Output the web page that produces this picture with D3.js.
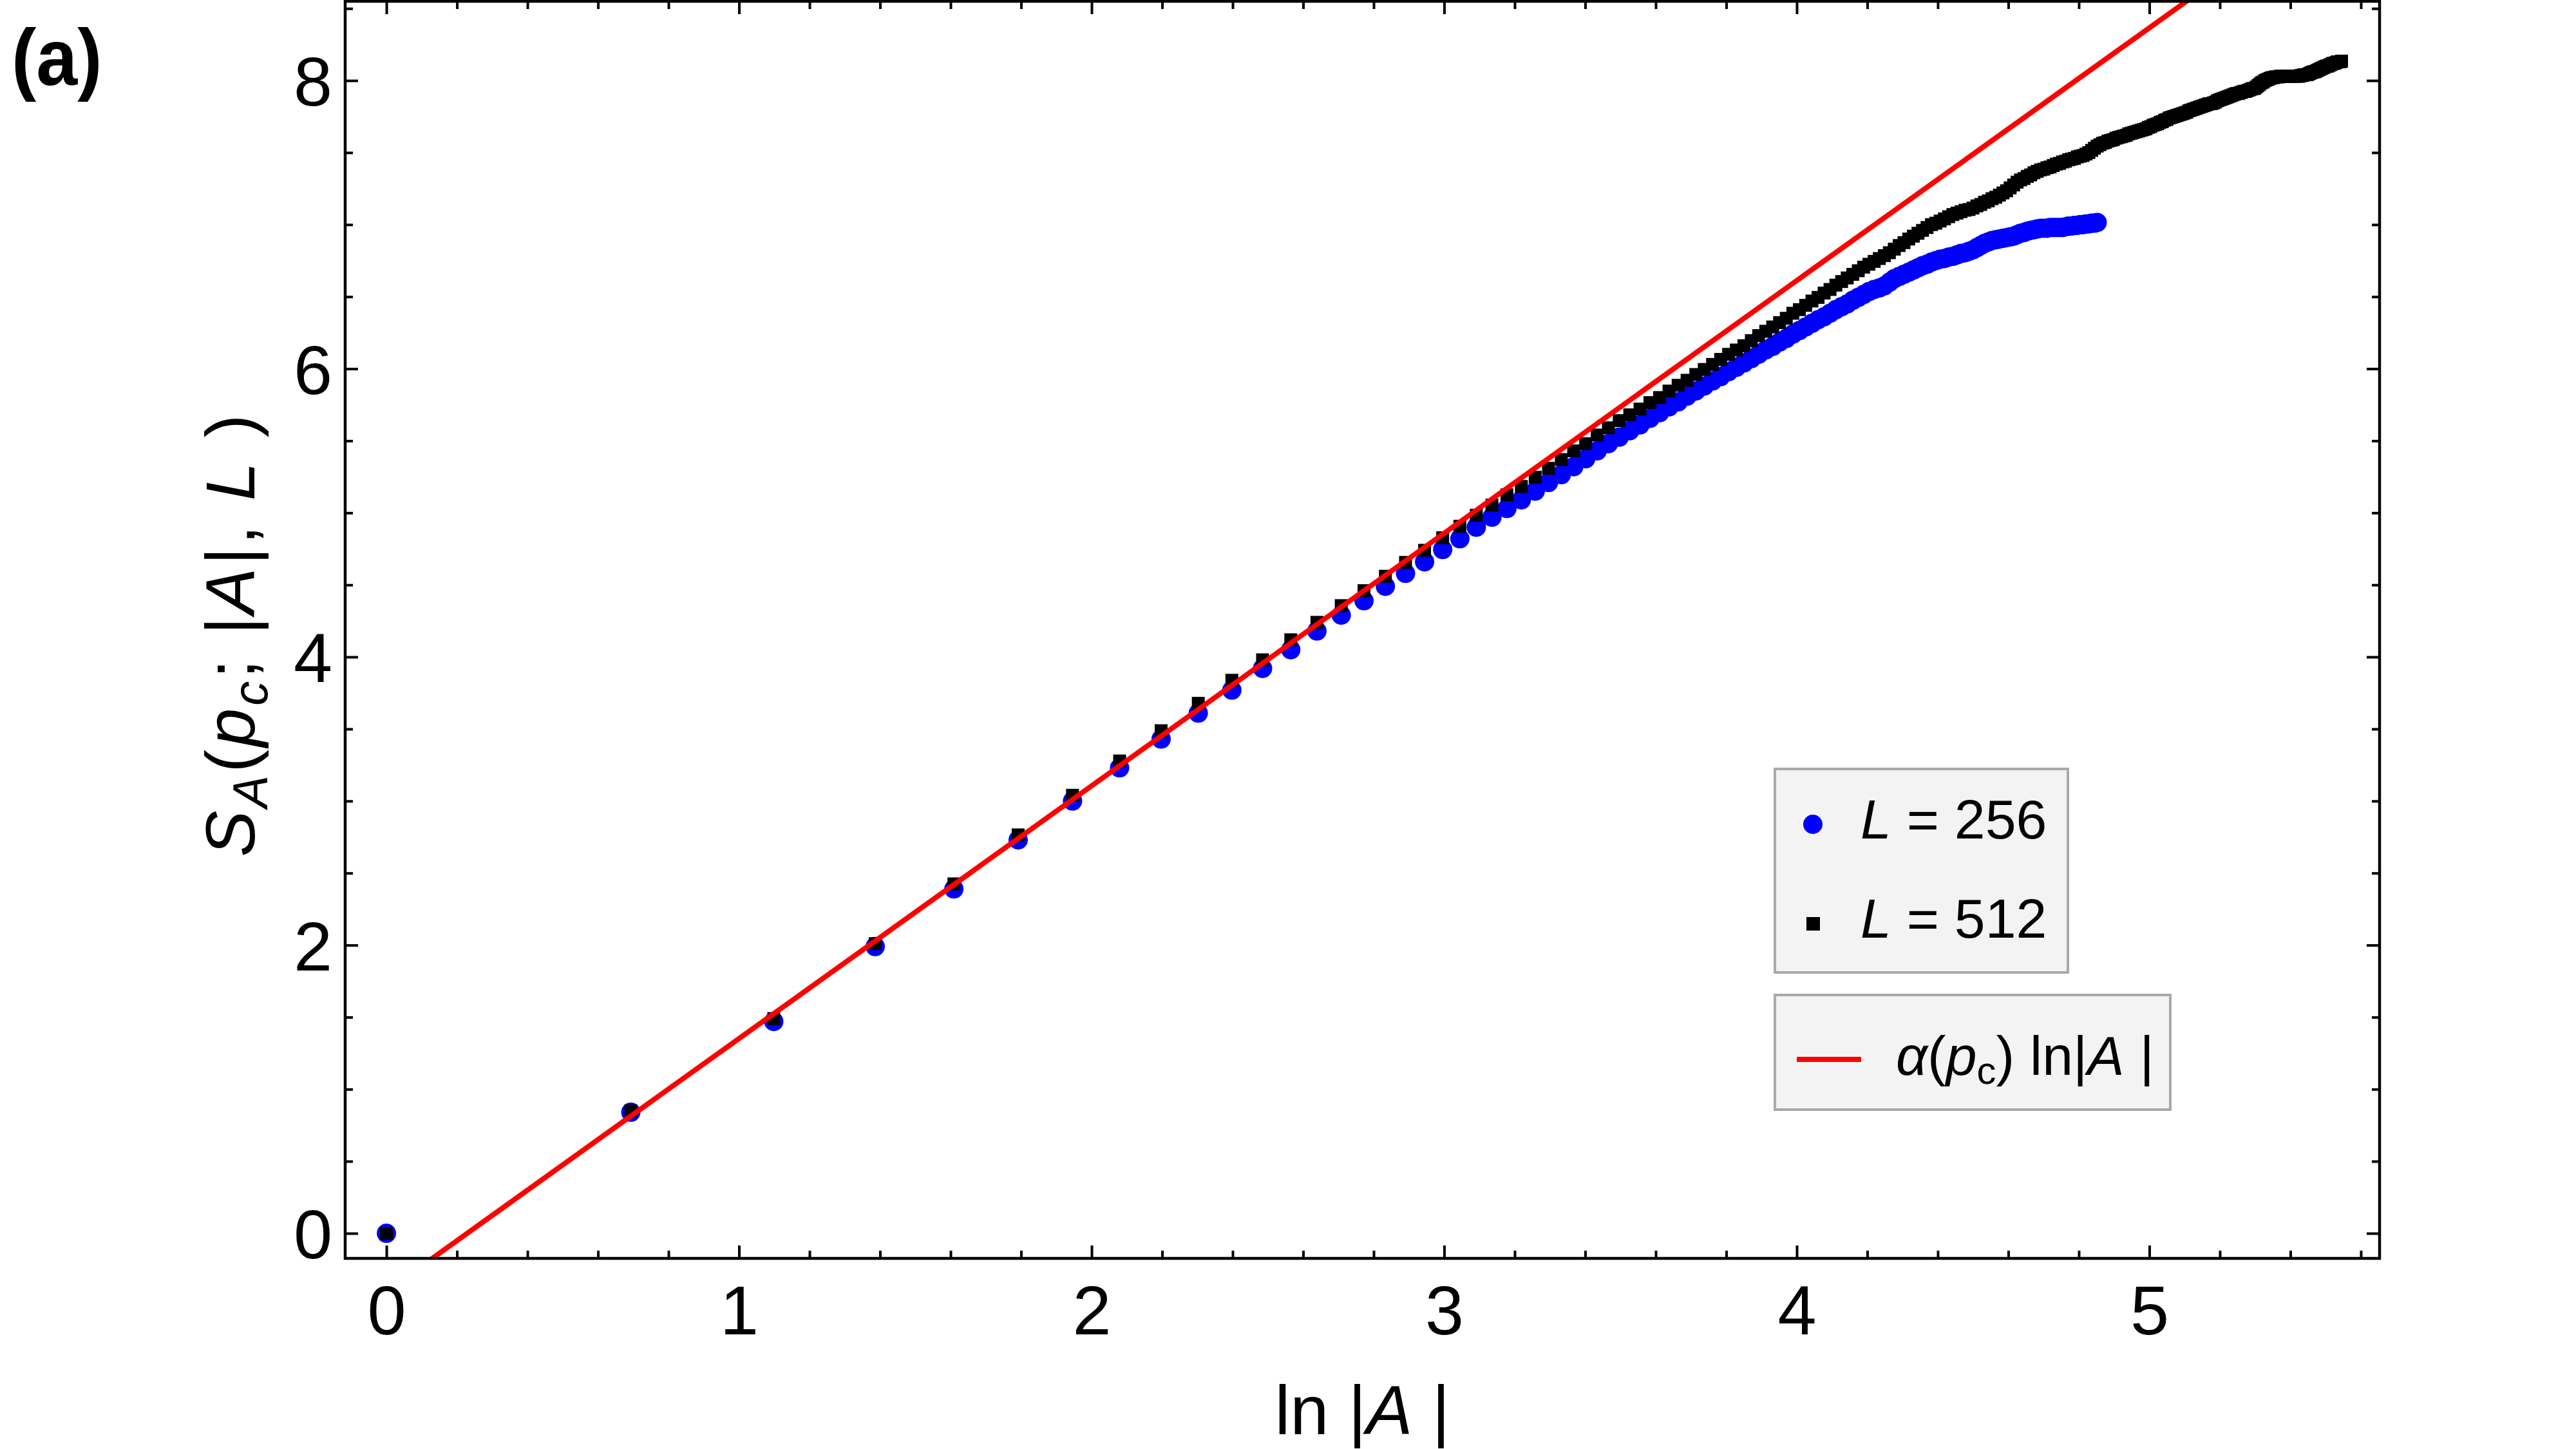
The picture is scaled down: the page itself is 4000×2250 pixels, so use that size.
<!DOCTYPE html>
<html>
<head>
<meta charset="utf-8">
<script src="https://cdn.jsdelivr.net/npm/d3@7"></script>
<style>
  body { margin: 0; background: #fff; }
</style>
</head>
<body>
<svg id="chart"></svg>
<script>
// Entanglement entropy S_A vs ln|A|, one value per subsystem size |A| = 1, 2, 3, ...
const s256 = [
  0, 0.84, 1.47, 1.99, 2.39, 2.73, 3.00, 3.23, 3.43, 3.61,
  3.77, 3.92, 4.05, 4.18, 4.29, 4.39, 4.49, 4.58, 4.66, 4.745,
  4.82, 4.90, 4.97, 5.03, 5.09, 5.15, 5.21, 5.265, 5.32, 5.375,
  5.43, 5.48, 5.525, 5.57, 5.61, 5.655, 5.695, 5.735, 5.77, 5.81,
  5.845, 5.88, 5.915, 5.945, 5.98, 6.01, 6.04, 6.07, 6.10, 6.13,
  6.155, 6.185, 6.21, 6.24, 6.265, 6.29, 6.315, 6.34, 6.36, 6.385,
  6.41, 6.43, 6.45, 6.475, 6.495, 6.515, 6.535, 6.55, 6.56, 6.575,
  6.60, 6.625, 6.64, 6.655, 6.67, 6.685, 6.70, 6.715, 6.725, 6.74,
  6.75, 6.76, 6.765, 6.775, 6.78, 6.79, 6.80, 6.805, 6.815, 6.825,
  6.84, 6.855, 6.87, 6.88, 6.89, 6.895, 6.90, 6.905, 6.91, 6.915,
  6.92, 6.93, 6.94, 6.945, 6.955, 6.96, 6.965, 6.97, 6.975, 6.975,
  6.975, 6.98, 6.98, 6.98, 6.98, 6.98, 6.985, 6.99, 6.99, 6.995,
  6.995, 7.0, 7.0, 7.005, 7.005, 7.01, 7.01, 7.015
];
const s512 = [
  0, 0.85, 1.49, 2.01, 2.425, 2.765, 3.04, 3.278, 3.488, 3.678,
  3.838, 3.98, 4.119, 4.24, 4.356, 4.46, 4.56, 4.656, 4.74, 4.827,
  4.907, 4.983, 5.054, 5.125, 5.183, 5.247, 5.309, 5.37, 5.43, 5.48,
  5.54, 5.59, 5.64, 5.68, 5.72, 5.765, 5.80, 5.845, 5.885, 5.92,
  5.96, 5.995, 6.03, 6.065, 6.10, 6.13, 6.16, 6.195, 6.23, 6.26,
  6.29, 6.32, 6.35, 6.385, 6.41, 6.44, 6.47, 6.495, 6.525, 6.55,
  6.58, 6.605, 6.63, 6.655, 6.68, 6.705, 6.725, 6.745, 6.765, 6.785,
  6.805, 6.83, 6.855, 6.875, 6.90, 6.92, 6.94, 6.96, 6.98, 7.0,
  7.01, 7.025, 7.04, 7.055, 7.07, 7.08, 7.09, 7.10, 7.105, 7.115,
  7.13, 7.14, 7.155, 7.165, 7.18, 7.19, 7.205, 7.22, 7.235, 7.255,
  7.275, 7.295, 7.31, 7.32, 7.335, 7.345, 7.36, 7.37, 7.38, 7.385,
  7.395, 7.40, 7.41, 7.42, 7.425, 7.435, 7.44, 7.45, 7.455, 7.46,
  7.47, 7.475, 7.48, 7.49, 7.50, 7.515, 7.53, 7.545, 7.555, 7.565,
  7.57, 7.58, 7.585, 7.59, 7.60, 7.605, 7.61, 7.615, 7.62, 7.63,
  7.635, 7.64, 7.645, 7.65, 7.655, 7.66, 7.665, 7.675, 7.68, 7.69,
  7.695, 7.70, 7.71, 7.715, 7.725, 7.73, 7.74, 7.745, 7.75, 7.755,
  7.76, 7.765, 7.77, 7.775, 7.78, 7.79, 7.795, 7.80, 7.805, 7.81,
  7.815, 7.82, 7.825, 7.83, 7.835, 7.84, 7.84, 7.845, 7.85, 7.86,
  7.865, 7.87, 7.875, 7.88, 7.885, 7.89, 7.895, 7.90, 7.905, 7.91,
  7.91, 7.915, 7.92, 7.925, 7.925, 7.93, 7.935, 7.94, 7.945, 7.945,
  7.955, 7.965, 7.975, 7.985, 7.99, 8.0, 8.005, 8.01, 8.015, 8.02,
  8.02, 8.025, 8.025, 8.025, 8.03, 8.03, 8.03, 8.03, 8.03, 8.03,
  8.03, 8.03, 8.03, 8.03, 8.03, 8.03, 8.03, 8.035, 8.035, 8.04,
  8.04, 8.04, 8.045, 8.05, 8.055, 8.06, 8.06, 8.065, 8.07, 8.075,
  8.08, 8.085, 8.09, 8.095, 8.10, 8.10, 8.105, 8.11, 8.115, 8.12,
  8.12, 8.125, 8.13, 8.13, 8.13, 8.135
];

// Fitted line alpha(p_c) ln|A| + c
const fitSlope = 1.7535;
const fitIntercept = -0.402;

const xTicks = [0, 1, 2, 3, 4, 5];
const yTicks = [0, 2, 4, 6, 8];
const seriesNames = ["256", "512"];

// Layout
const width = 4000, height = 2250;
const plot = { left: 536, right: 3695, top: 2, bottom: 1954 };
const font = "'Liberation Sans', Arial, Helvetica, sans-serif";

const svg = d3.select("#chart")
    .attr("width", width)
    .attr("height", height)
    .style("background", "#fff");

// Scales
const x = d3.scaleLinear().domain([-0.117, 5.653]).range([plot.left, plot.right]);
const y = d3.scaleLinear().domain([-0.174, 8.55]).range([plot.bottom, plot.top]);

const xMinor = d3.range(0, 5.65, 0.2).filter(v => Math.abs(v - Math.round(v)) > 1e-6);
const yMinor = d3.range(0.5, 8.55, 0.5).filter(v => v % 2 !== 0);

svg.append("clipPath").attr("id", "clip")
    .append("rect")
    .attr("x", plot.left).attr("y", plot.top)
    .attr("width", plot.right - plot.left).attr("height", plot.bottom - plot.top);

// Data points: L = 256 blue circles underneath, L = 512 black squares on top
const pts256 = s256.map((v, i) => ({ lnA: Math.log(i + 1), s: v }));
const pts512 = s512.map((v, i) => ({ lnA: Math.log(i + 1), s: v }));

const dataG = svg.append("g").attr("clip-path", "url(#clip)");

dataG.selectAll("circle.l256")
    .data(pts256)
    .enter().append("circle")
    .attr("class", "l256")
    .attr("cx", d => x(d.lnA))
    .attr("cy", d => y(d.s))
    .attr("r", 15)
    .attr("fill", "#0000ff");

dataG.selectAll("rect.l512")
    .data(pts512)
    .enter().append("rect")
    .attr("class", "l512")
    .attr("x", d => x(d.lnA) - 10)
    .attr("y", d => y(d.s) - 10)
    .attr("width", 20)
    .attr("height", 20)
    .attr("fill", "#000");

// Fit line across the whole x range
const xd = x.domain();
dataG.append("line")
    .attr("x1", x(xd[0])).attr("y1", y(fitSlope * xd[0] + fitIntercept))
    .attr("x2", x(xd[1])).attr("y2", y(fitSlope * xd[1] + fitIntercept))
    .attr("stroke", "#ff0000")
    .attr("stroke-width", 8);

// Axes with inward ticks on all four sides
function styleAxis(g) {
    g.select(".domain").remove();
    g.attr("font-family", font).attr("font-size", 108);
    g.selectAll(".tick line").attr("stroke", "#000").attr("stroke-width", 4);
    g.selectAll(".tick text").attr("fill", "#000");
}

svg.append("g").attr("transform", `translate(0,${plot.bottom})`)
    .call(d3.axisBottom(x).tickValues(xTicks).tickSizeInner(-20).tickSizeOuter(0).tickPadding(41).tickFormat(d3.format("d")))
    .call(styleAxis);
svg.append("g").attr("transform", `translate(0,${plot.bottom})`)
    .call(d3.axisBottom(x).tickValues(xMinor).tickSizeInner(-12).tickSizeOuter(0).tickFormat(""))
    .call(styleAxis);
svg.append("g").attr("transform", `translate(0,${plot.top})`)
    .call(d3.axisTop(x).tickValues(xTicks).tickSizeInner(-20).tickSizeOuter(0).tickFormat(""))
    .call(styleAxis);
svg.append("g").attr("transform", `translate(0,${plot.top})`)
    .call(d3.axisTop(x).tickValues(xMinor).tickSizeInner(-12).tickSizeOuter(0).tickFormat(""))
    .call(styleAxis);

const yAxisG = svg.append("g").attr("transform", `translate(${plot.left},0)`)
    .call(d3.axisLeft(y).tickValues(yTicks).tickSizeInner(-20).tickSizeOuter(0).tickPadding(20).tickFormat(d3.format("d")))
    .call(styleAxis);
yAxisG.selectAll(".tick text").attr("dy", "0.36em");
svg.append("g").attr("transform", `translate(${plot.left},0)`)
    .call(d3.axisLeft(y).tickValues(yMinor).tickSizeInner(-12).tickSizeOuter(0).tickFormat(""))
    .call(styleAxis);
svg.append("g").attr("transform", `translate(${plot.right},0)`)
    .call(d3.axisRight(y).tickValues(yTicks).tickSizeInner(-20).tickSizeOuter(0).tickFormat(""))
    .call(styleAxis);
svg.append("g").attr("transform", `translate(${plot.right},0)`)
    .call(d3.axisRight(y).tickValues(yMinor).tickSizeInner(-12).tickSizeOuter(0).tickFormat(""))
    .call(styleAxis);

// Frame
svg.append("rect")
    .attr("x", plot.left).attr("y", plot.top)
    .attr("width", plot.right - plot.left).attr("height", plot.bottom - plot.top)
    .attr("fill", "none")
    .attr("stroke", "#000")
    .attr("stroke-width", 4.5);

// Axis labels
const xLabel = svg.append("text")
    .attr("x", (plot.left + plot.right) / 2)
    .attr("y", 2227)
    .attr("text-anchor", "middle")
    .attr("font-family", font)
    .attr("font-size", 108);
xLabel.append("tspan").text("ln |");
xLabel.append("tspan").attr("font-style", "italic").text("A");
xLabel.append("tspan").text(" |");

const yLabel = svg.append("text")
    .attr("transform", `translate(395,${(plot.top + plot.bottom) / 2 + 7}) rotate(-90)`)
    .attr("text-anchor", "middle")
    .attr("font-family", font)
    .attr("font-size", 108)
    .attr("letter-spacing", 4);
yLabel.append("tspan").attr("font-style", "italic").text("S");
yLabel.append("tspan").attr("font-style", "italic").attr("font-size", 76).attr("dy", 20).text("A");
yLabel.append("tspan").attr("dy", -20).text("(");
yLabel.append("tspan").attr("font-style", "italic").text("p");
yLabel.append("tspan").attr("font-style", "italic").attr("font-size", 76).attr("dy", 20).text("c");
yLabel.append("tspan").attr("dy", -20).text("; |");
yLabel.append("tspan").attr("font-style", "italic").text("A");
yLabel.append("tspan").text("|, ");
yLabel.append("tspan").attr("font-style", "italic").text("L");
yLabel.append("tspan").text(" )");

// Panel tag
svg.append("text")
    .attr("transform", "translate(18,132) scale(0.92,1)")
    .attr("font-family", font)
    .attr("font-size", 125)
    .attr("font-weight", "bold")
    .text("(a)");

// Legend: markers box
const legend1 = svg.append("g");
legend1.append("rect")
    .attr("x", 2756).attr("y", 1194)
    .attr("width", 455).attr("height", 316)
    .attr("fill", "#f3f3f3")
    .attr("stroke", "#a9a9a9")
    .attr("stroke-width", 4);

const entries = legend1.selectAll("g.entry")
    .data(seriesNames)
    .enter().append("g")
    .attr("class", "entry")
    .attr("transform", (d, i) => `translate(0,${i * 154})`);

entries.each(function(d, i) {
    const e = d3.select(this);
    if (i === 0) {
        e.append("circle").attr("cx", 2815).attr("cy", 1280).attr("r", 15).attr("fill", "#0000ff");
    } else {
        e.append("rect").attr("x", 2805).attr("y", 1270).attr("width", 21).attr("height", 21).attr("fill", "#000");
    }
    const t = e.append("text")
        .attr("x", 2889).attr("y", 1302)
        .attr("font-family", font)
        .attr("font-size", 86);
    t.append("tspan").attr("font-style", "italic").text("L");
    t.append("tspan").text(" = " + d);
});

// Legend: fit line box
const legend2 = svg.append("g");
legend2.append("rect")
    .attr("x", 2756).attr("y", 1545)
    .attr("width", 614).attr("height", 178)
    .attr("fill", "#f3f3f3")
    .attr("stroke", "#a9a9a9")
    .attr("stroke-width", 4);
legend2.append("line")
    .attr("x1", 2790).attr("x2", 2890)
    .attr("y1", 1645).attr("y2", 1645)
    .attr("stroke", "#ff0000")
    .attr("stroke-width", 8);
const fitText = legend2.append("text")
    .attr("x", 2944).attr("y", 1669)
    .attr("font-family", font)
    .attr("font-size", 86);
fitText.append("tspan").attr("font-style", "italic").text("α");
fitText.append("tspan").text("(");
fitText.append("tspan").attr("font-style", "italic").text("p");
fitText.append("tspan").attr("font-size", 60).attr("dy", 14).text("c");
fitText.append("tspan").attr("dy", -14).text(")");
fitText.append("tspan").text(" ln|");
fitText.append("tspan").attr("font-style", "italic").text("A");
fitText.append("tspan").text(" |");
</script>
</body>
</html>
